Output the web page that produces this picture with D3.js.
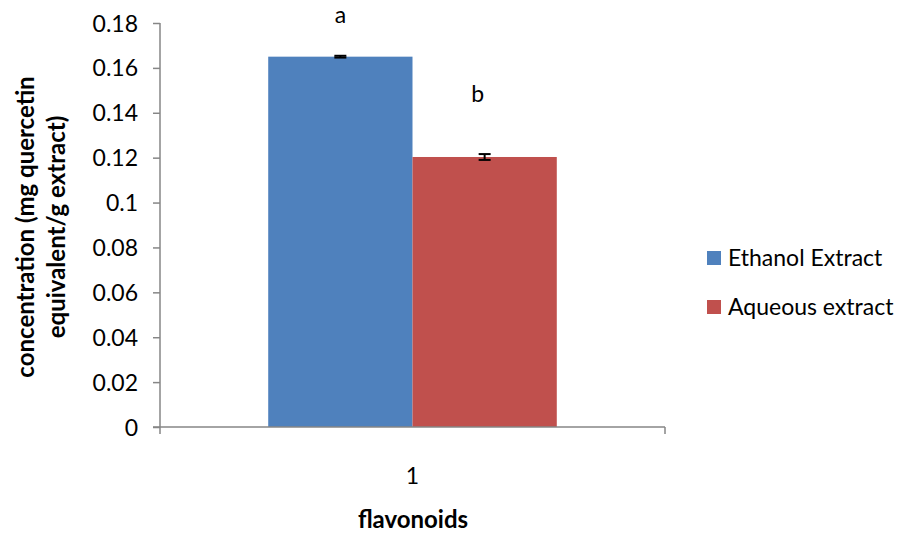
<!DOCTYPE html>
<html>
<head>
<meta charset="utf-8">
<script src="https://cdn.jsdelivr.net/npm/d3@7"></script>
<style>
  body { margin: 0; background: #fff; }
  text { font-family: Lato, "Open Sans", sans-serif; fill: #000; }
</style>
</head>
<body>
<svg id="chart" width="908" height="533"></svg>
<script>
// data
const categories = ["1"];
const seriesNames = ["Ethanol Extract", "Aqueous extract"];
const seriesColors = ["#4f81bd", "#c0504d"];
const values = [0.165, 0.1203];
const errors = [0.0004, 0.0013];
const letters = ["a", "b"];
const yTicks = [0, 0.02, 0.04, 0.06, 0.08, 0.1, 0.12, 0.14, 0.16, 0.18];

const svg = d3.select("#chart");
const margin = { left: 160, right: 665, top: 23, bottom: 427 };
const fontSize = "23px";

const x = d3.scaleBand()
            .domain(categories)
            .range([margin.left, margin.right]);
const inner = d3.scaleBand()
                .domain(seriesNames)
                .range([0, x.bandwidth()])
                .paddingOuter(0.75)
                .paddingInner(0);
const y = d3.scaleLinear()
            .domain([0, 0.18])
            .range([margin.bottom, margin.top]);

// bars
const bars = svg.append("g");
seriesNames.forEach((s, i) => {
    const cx = x(categories[0]) + inner(s) + inner.bandwidth() / 2;
    bars.append("rect")
        .attr("x", x(categories[0]) + inner(s))
        .attr("y", y(values[i]))
        .attr("width", inner.bandwidth())
        .attr("height", y(0) - y(values[i]))
        .attr("fill", seriesColors[i]);
    // error bar
    const eb = bars.append("g").attr("stroke", "#000").attr("stroke-width", 2);
    eb.append("line")
      .attr("x1", cx).attr("x2", cx)
      .attr("y1", y(values[i] + errors[i])).attr("y2", y(values[i] - errors[i]));
    [values[i] + errors[i], values[i] - errors[i]].forEach(v => {
        eb.append("line")
          .attr("x1", cx - 6).attr("x2", cx + 6)
          .attr("y1", y(v)).attr("y2", y(v));
    });
    // significance letter
    svg.append("text")
       .attr("x", cx - (i === 1 ? 7 : 0))
       .attr("y", i === 0 ? 23 : 102)
       .attr("text-anchor", "middle")
       .style("font-size", fontSize)
       .text(letters[i]);
});

// y axis
const yAxis = svg.append("g")
                 .attr("transform", `translate(${margin.left},0)`)
                 .call(d3.axisLeft(y).tickValues(yTicks).tickSize(7).tickPadding(15)
                         .tickFormat(d => d3.format("")(+d.toFixed(2))));
yAxis.selectAll("line, path").attr("stroke", "#868686").attr("stroke-width", 1.5);
yAxis.select("path").attr("d", `M0,${margin.top}V${margin.bottom}`);
yAxis.selectAll("text").style("font-size", fontSize).attr("dy", "0.35em");

// x axis
const xAxis = svg.append("g");
xAxis.append("line")
     .attr("x1", margin.left - 7).attr("x2", margin.right)
     .attr("y1", y(0)).attr("y2", y(0))
     .attr("stroke", "#868686").attr("stroke-width", 1.5);
[margin.left, margin.right].forEach(px => {
    xAxis.append("line")
         .attr("x1", px).attr("x2", px)
         .attr("y1", y(0)).attr("y2", y(0) + 7)
         .attr("stroke", "#868686").attr("stroke-width", 1.5);
});
xAxis.append("text")
     .attr("x", x(categories[0]) + x.bandwidth() / 2)
     .attr("y", 484)
     .attr("text-anchor", "middle")
     .style("font-size", fontSize)
     .text(categories[0]);

// axis titles
svg.append("text")
   .attr("x", 413).attr("y", 528)
   .attr("text-anchor", "middle")
   .style("font-size", "24px").style("font-weight", "bold")
   .text("flavonoids");

const yTitle = svg.append("text")
                  .attr("transform", "translate(0,227) rotate(-90)")
                  .attr("text-anchor", "middle")
                  .style("font-size", "24px").style("font-weight", "bold");
yTitle.append("tspan").attr("x", 0).attr("y", 34).text("concentration (mg quercetin");
yTitle.append("tspan").attr("x", 0).attr("y", 65).text("equivalent/g extract)");

// legend
const legend = svg.append("g");
seriesNames.forEach((s, i) => {
    const ly = 258 + i * 49;
    legend.append("rect")
          .attr("x", 707).attr("y", ly - 7)
          .attr("width", 14).attr("height", 14)
          .attr("fill", seriesColors[i]);
    legend.append("text")
          .attr("x", 728).attr("y", ly)
          .attr("dy", "0.35em")
          .style("font-size", fontSize)
          .text(s);
});
</script>
</body>
</html>
